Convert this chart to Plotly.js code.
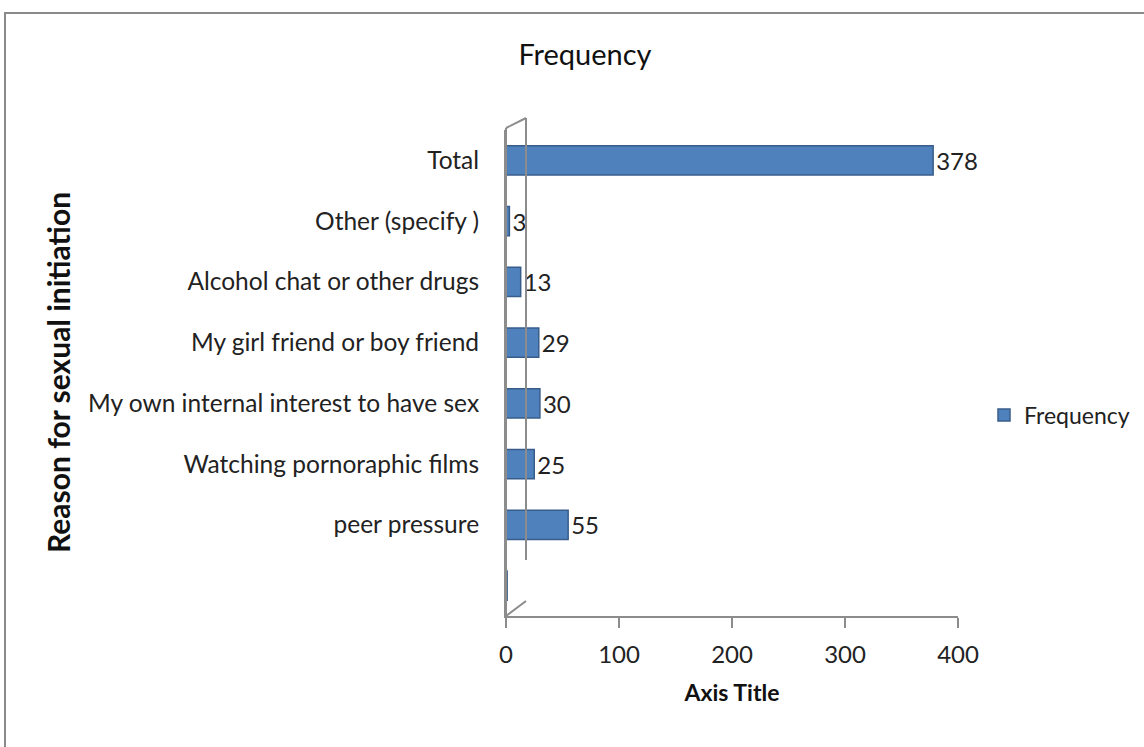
<!DOCTYPE html>
<html>
<head>
<meta charset="utf-8">
<script src="https://cdn.plot.ly/plotly-3.0.1.min.js"></script>
<style>html,body{margin:0;padding:0;background:#fff;}#chart{width:1144px;height:747px;}</style>
</head>
<body>
<div id="chart"></div>
<script>
const categories = [" ", "peer pressure", "Watching pornoraphic films", "My own internal interest to have sex", "My girl friend or boy friend", "Alcohol chat or other drugs", "Other (specify )", "Total"];
const frequency = [1, 55, 25, 30, 29, 13, 3, 378];
const seriesName = "Frequency";
const xTicks = [0, 100, 200, 300, 400];

const labels = frequency.map((v, i) => categories[i].trim() ? String(v) : "");

const W = 1144, H = 747;
const mL = 506, mR = 186, mT = 130, mB = 131;
const pw = W - mL - mR, ph = H - mT - mB;
const px = x => (x - mL) / pw;
const py = y => 1 - (y - mT) / ph;
const FONT = "Lato, Carlito, sans-serif";

const trace = {
  type: "bar",
  orientation: "h",
  y: categories,
  x: frequency,
  name: seriesName,
  width: 0.48,
  marker: { color: "#4F81BD", line: { color: "#385D8A", width: 1.5 } },
  text: labels,
  textposition: "outside",
  cliponaxis: false,
  textfont: { family: FONT, size: 24, color: "#222" },
  showlegend: true
};

const grey = "#8c8c8c";
const layout = {
  width: W, height: H,
  margin: { l: mL, r: mR, t: mT, b: mB, autoexpand: false },
  paper_bgcolor: "#fff", plot_bgcolor: "rgba(0,0,0,0)",
  font: { family: FONT, size: 24, color: "#222" },
  title: { text: "Frequency", x: 585 / W, xanchor: "center", y: 1 - 55 / H, yanchor: "middle",
           font: { family: FONT, size: 29, color: "#111" } },
  xaxis: {
    range: [0, 400], tickvals: xTicks, ticks: "outside", ticklen: 10, tickcolor: grey, tickwidth: 2,
    ticklabelstandoff: 6, automargin: false,
    showgrid: false, zeroline: false, showline: true, linecolor: grey, linewidth: 2,
    tickfont: { family: FONT, size: 24, color: "#222" },
    title: { text: "<b>Axis Title</b>", standoff: 18, font: { family: FONT, size: 23, color: "#111" } }
  },
  yaxis: {
    type: "category", automargin: false, showgrid: false, zeroline: false,
    showline: true, linecolor: grey, linewidth: 2, ticks: "", ticklen: 0,
    ticklabelstandoff: 20,
    tickfont: { family: FONT, size: 24.5, color: "#222" }
  },
  legend: { x: px(984), y: py(415), xanchor: "left", yanchor: "middle",
            font: { family: FONT, size: 23, color: "#222" }, bgcolor: "rgba(0,0,0,0)" },
  annotations: [
    { text: "<b>Reason for sexual initiation</b>", xref: "paper", yref: "paper",
      x: px(58), y: py(373), xanchor: "center", yanchor: "middle", textangle: -90,
      showarrow: false, font: { family: FONT, size: 30, color: "#111" } }
  ],
  shapes: [
    { type: "line", xref: "paper", yref: "paper", x0: px(526), x1: px(526), y0: py(118), y1: py(560), line: { color: grey, width: 2 } },
    { type: "line", xref: "paper", yref: "paper", x0: px(506), x1: px(526), y0: py(128), y1: py(118), line: { color: grey, width: 2 } },
    { type: "line", xref: "paper", yref: "paper", x0: px(506), x1: px(526), y0: py(616), y1: py(601), line: { color: grey, width: 2 } },
    { type: "line", xref: "paper", yref: "paper", x0: px(506), x1: px(506), y0: py(128), y1: py(616), line: { color: grey, width: 2 } },
    { type: "rect", xref: "paper", yref: "paper", x0: px(5), x1: px(1160), y0: py(13), y1: py(760), line: { color: "#8a8a8a", width: 2 }, layer: "below" }
  ]
};

Plotly.newPlot("chart", [trace], layout, { displayModeBar: false, staticPlot: true });
</script>
</body>
</html>
